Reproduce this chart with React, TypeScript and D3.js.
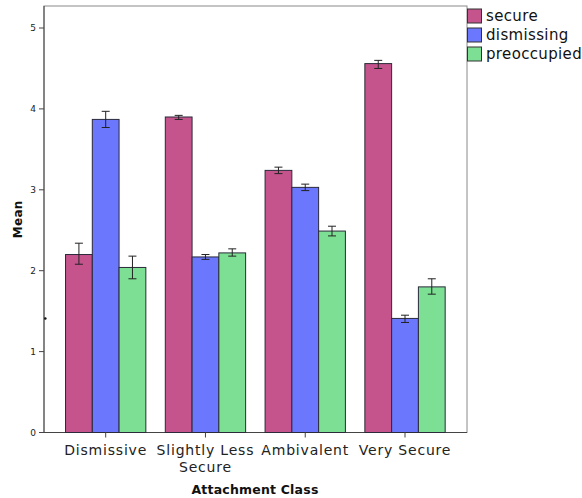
import React from 'react';
import * as d3 from 'd3';

const categories = ['Dismissive', 'Slightly Less Secure', 'Ambivalent', 'Very Secure'];
const categoryLines = [['Dismissive'], ['Slightly Less', 'Secure'], ['Ambivalent'], ['Very Secure']];
const seriesNames = ['secure', 'dismissing', 'preoccupied'];
const seriesColors = ['#c5548d', '#6b77fd', '#7ddf93'];

// means per series, in category order
const secureMeans = [2.2, 3.9, 3.24, 4.56];
const dismissingMeans = [3.87, 2.17, 3.03, 1.41];
const preoccupiedMeans = [2.04, 2.22, 2.49, 1.8];

// error bar low / high
const secureLow = [2.08, 3.87, 3.2, 4.5];
const secureHigh = [2.34, 3.92, 3.28, 4.6];
const dismissingLow = [3.77, 2.14, 2.99, 1.36];
const dismissingHigh = [3.97, 2.2, 3.07, 1.45];
const preoccupiedLow = [1.9, 2.18, 2.43, 1.71];
const preoccupiedHigh = [2.18, 2.27, 2.55, 1.9];

const yTicks = [0, 1, 2, 3, 4, 5];

const means = [secureMeans, dismissingMeans, preoccupiedMeans];
const lows = [secureLow, dismissingLow, preoccupiedLow];
const highs = [secureHigh, dismissingHigh, preoccupiedHigh];

const W = 582;
const H = 498;
const left = 44;
const right = 467;
const top = 6;
const bottom = 432.5;

export default function App() {
  const y = d3.scaleLinear().domain([0, 5]).range([bottom, bottom - 5 * 80.9]);
  const x = d3
    .scaleBand<string>()
    .domain(categories)
    .range([55.8, 454.9])
    .paddingInner(0.195)
    .paddingOuter(0.0975);
  const xs = d3
    .scaleBand<string>()
    .domain(seriesNames)
    .range([0, x.bandwidth()]);

  const font = 'DejaVu Sans, sans-serif';

  return (
    <svg
      width={W}
      height={H}
      style={{ position: 'absolute', left: 0, top: 0, background: '#fff' }}
      fontFamily={font}
    >
      {/* frame */}
      <rect x={left} y={top} width={right - left} height={bottom - top} fill="#fff" stroke="#8a8a8a" strokeWidth={1} />
      <line x1={left} x2={left} y1={top} y2={bottom} stroke="#444" />
      <line x1={left} x2={right} y1={bottom} y2={bottom} stroke="#444" />

      {/* y axis */}
      {yTicks.map((t) => (
        <g key={t} transform={`translate(0,${y(t)})`}>
          <line x1={left - 5} x2={left} stroke="#444" />
          <text x={left - 8} dy="0.35em" textAnchor="end" fontSize={9} fill="#222">
            {t}
          </text>
        </g>
      ))}
      <text
        transform={`translate(22,${(top + bottom) / 2}) rotate(-90)`}
        textAnchor="middle"
        fontSize={12}
        fontWeight="bold"
        fill="#111"
        letterSpacing={0.3}
      >
        Mean
      </text>
      <circle cx={left + 1.3} cy={y(1.41)} r={1.3} fill="#111" />

      {/* bars */}
      {categories.map((c, ci) => (
        <g key={c} transform={`translate(${x(c)},0)`}>
          {seriesNames.map((s, si) => {
            const v = means[si][ci];
            const bx = xs(s) as number;
            const bw = xs.bandwidth();
            const cx = bx + bw / 2;
            return (
              <g key={s}>
                <rect
                  x={bx}
                  y={y(v)}
                  width={bw}
                  height={bottom - y(v)}
                  fill={seriesColors[si]}
                  stroke="#2a2a3a"
                  strokeWidth={1}
                />
                <g stroke="#222" strokeWidth={1}>
                  <line x1={cx} x2={cx} y1={y(lows[si][ci])} y2={y(highs[si][ci])} />
                  <line x1={cx - 4} x2={cx + 4} y1={y(lows[si][ci])} y2={y(lows[si][ci])} />
                  <line x1={cx - 4} x2={cx + 4} y1={y(highs[si][ci])} y2={y(highs[si][ci])} />
                </g>
              </g>
            );
          })}
        </g>
      ))}

      {/* x axis */}
      {categories.map((c, ci) => {
        const cx = (x(c) as number) + x.bandwidth() / 2;
        return (
          <g key={c}>
            <line x1={cx} x2={cx} y1={bottom} y2={bottom + 5} stroke="#444" />
            {categoryLines[ci].map((ln, li) => (
              <text
                key={li}
                x={cx}
                y={454.5 + li * 17}
                textAnchor="middle"
                fontSize={14}
                letterSpacing={0.8}
                fill="#222"
              >
                {ln}
              </text>
            ))}
          </g>
        );
      })}
      <text x={255} y={494} textAnchor="middle" fontSize={12.5} fontWeight="bold" letterSpacing={0.2} fill="#111">
        Attachment Class
      </text>

      {/* legend */}
      {seriesNames.map((s, si) => (
        <g key={s} transform={`translate(467.5,${9 + si * 19})`}>
          <rect x={0} y={0} width={14} height={14} fill={seriesColors[si]} stroke="#333" />
          <text x={18.5} y={12} fontSize={15} letterSpacing={0.35} fill="#111">
            {s}
          </text>
        </g>
      ))}
    </svg>
  );
}
